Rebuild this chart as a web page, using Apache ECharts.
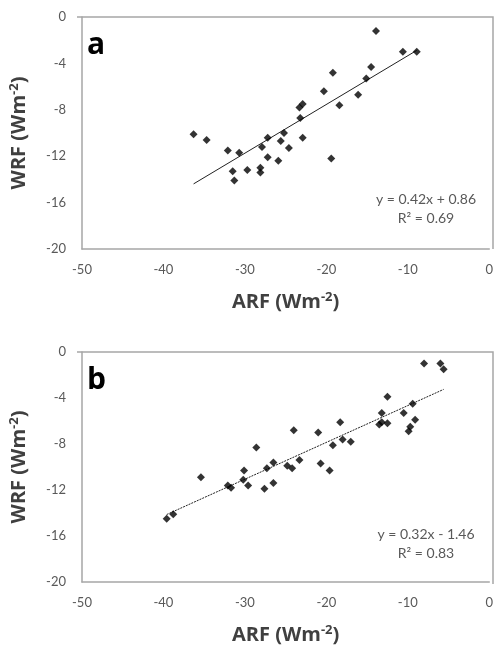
<!DOCTYPE html>
<html>
<head>
<meta charset="utf-8">
<script src="https://cdn.jsdelivr.net/npm/echarts@6/dist/echarts.min.js"></script>
<style>
  html, body { margin: 0; padding: 0; background: #fff; }
  #chart { width: 496px; height: 646px; }
</style>
</head>
<body>
<div id="chart"></div>
<script>
// panel a
const arfA = [-36.3, -34.7, -32.1, -30.7, -31.5, -31.3, -29.7, -28.1, -28.1, -27.9, -27.2, -27.2, -25.9, -25.6, -25.2, -24.6, -23.3, -22.9, -23.2, -22.9, -20.3, -19.2, -19.4, -18.4, -16.1, -15.1, -14.5, -13.9, -10.6, -8.9]
const wrfA = [-10.1, -10.6, -11.5, -11.7, -13.3, -14.1, -13.2, -13.0, -13.4, -11.2, -10.4, -12.1, -12.4, -10.7, -10.0, -11.3, -7.8, -7.5, -8.7, -10.4, -6.4, -4.8, -12.2, -7.6, -6.7, -5.3, -4.3, -1.2, -3.0, -3.0]
const fitA = { slope: 0.42, intercept: 0.86, text: 'y = 0.42x + 0.86', r2: '0.69' }

// panel b
const arfB = [-39.6, -38.8, -35.4, -32.1, -31.7, -30.1, -30.2, -29.6, -28.6, -27.6, -27.3, -26.5, -26.5, -24.8, -24.2, -24.0, -23.3, -21.0, -20.7, -19.6, -19.2, -18.3, -18.0, -17.0, -13.5, -13.2, -13.2, -12.5, -12.5, -10.5, -9.9, -9.7, -9.4, -9.1, -8.0, -6.0, -5.6]
const wrfB = [-14.5, -14.1, -10.9, -11.6, -11.8, -10.3, -11.1, -11.6, -8.3, -11.9, -10.1, -9.6, -11.4, -9.9, -10.1, -6.8, -9.4, -7.0, -9.7, -10.3, -8.1, -6.1, -7.6, -7.8, -6.3, -6.1, -5.3, -6.2, -3.9, -5.3, -6.9, -6.5, -4.5, -5.9, -1.0, -1.0, -1.5]
const fitB = { slope: 0.32, intercept: -1.46, text: 'y = 0.32x - 1.46', r2: '0.83' }

const xTicks = [-50, -40, -30, -20, -10, 0]
const yTicks = [-20, -16, -12, -8, -4, 0]

function pairs(xs, ys) {
    return xs.map((x, i) => [x, ys[i]])
}
function trend(xs, fit) {
    const lo = Math.min(...xs), hi = Math.max(...xs)
    return [[lo, fit.slope * lo + fit.intercept], [hi, fit.slope * hi + fit.intercept]]
}

const tickFont = { color: '#595959', fontSize: 13, fontFamily: 'Lato, "Open Sans", sans-serif' }
const nameRich = {
    sup: { fontSize: 13, fontWeight: 'bold', color: '#404040', verticalAlign: 'top', padding: [0, 0, 9, 0], fontFamily: '"Open Sans", sans-serif' }
}
const nameStyle = { fontSize: 20, fontWeight: 'bold', color: '#404040', fontFamily: '"Open Sans", sans-serif', rich: nameRich }

const grids = [
    { left: 77, top: 17, width: 416, height: 232 },
    { left: 77, top: 352, width: 416, height: 232 }
]

function xAxis(i) {
    return {
        type: 'value', gridIndex: i, min: -50, max: 0, interval: 10,
        name: 'ARF (Wm{sup|-2})', nameLocation: 'middle', nameGap: 42,
        nameTextStyle: nameStyle,
        axisLine: { show: true, onZero: false, lineStyle: { color: '#a6a6a6', width: 1.5 } },
        axisTick: { show: false },
        splitLine: { show: false },
        axisLabel: Object.assign({ margin: 14, formatter: v => xTicks.includes(v) ? String(v) : '' }, tickFont)
    }
}
function yAxis(i) {
    return {
        type: 'value', gridIndex: i, min: -20, max: 0, interval: 4,
        name: 'WRF (Wm{sup|-2})', nameLocation: 'middle', nameGap: 52,
        nameTextStyle: nameStyle,
        axisLine: { show: true, onZero: false, lineStyle: { color: '#a6a6a6', width: 1.5 } },
        axisTick: { show: false },
        splitLine: { show: false },
        axisLabel: Object.assign({ margin: 16, formatter: v => yTicks.includes(v) ? String(v) : '' }, tickFont)
    }
}

function scatter(i, xs, ys) {
    return {
        type: 'scatter', xAxisIndex: i, yAxisIndex: i,
        data: pairs(xs, ys), symbol: 'diamond', symbolSize: 8,
        itemStyle: { color: '#000' }, z: 3
    }
}
function fitLine(i, xs, fit, dash) {
    return {
        type: 'line', xAxisIndex: i, yAxisIndex: i,
        data: trend(xs, fit), symbol: 'none', silent: true,
        lineStyle: { color: '#222', width: 1, type: dash }, z: 2
    }
}

const graphics = []
function panelText(top, letter, fit) {
    graphics.push({ type: 'text', left: 87, top: top + 13, style: { text: letter, fontSize: 30, fontWeight: 'bold', fill: '#000', fontFamily: '"Open Sans", sans-serif' } })
    graphics.push({ type: 'text', x: 426, y: top + 182, style: { text: fit.text, fontSize: 14, fill: '#595959', align: 'center', verticalAlign: 'middle', fontFamily: 'Lato, sans-serif' } })
    graphics.push({ type: 'text', x: 426, y: top + 201, style: { text: 'R² = ' + fit.r2, fontSize: 14, fill: '#595959', align: 'center', verticalAlign: 'middle', fontFamily: 'Lato, sans-serif' } })
    // plot-area frame (top and right edges)
    graphics.push({ type: 'polyline', shape: { points: [[77, top], [493, top], [493, top + 232]] }, style: { stroke: '#a6a6a6', lineWidth: 1.5, fill: null } })
}
panelText(17, 'a', fitA)
panelText(352, 'b', fitB)

const chart = echarts.init(document.getElementById('chart'), null, { renderer: 'canvas' })
chart.setOption({
    animation: false,
    backgroundColor: '#fff',
    grid: grids,
    xAxis: [xAxis(0), xAxis(1)],
    yAxis: [yAxis(0), yAxis(1)],
    series: [
        fitLine(0, arfA, fitA, 'solid'),
        scatter(0, arfA, wrfA),
        fitLine(1, arfB, fitB, [2, 1]),
        scatter(1, arfB, wrfB)
    ],
    graphic: graphics
})
</script>
</body>
</html>
